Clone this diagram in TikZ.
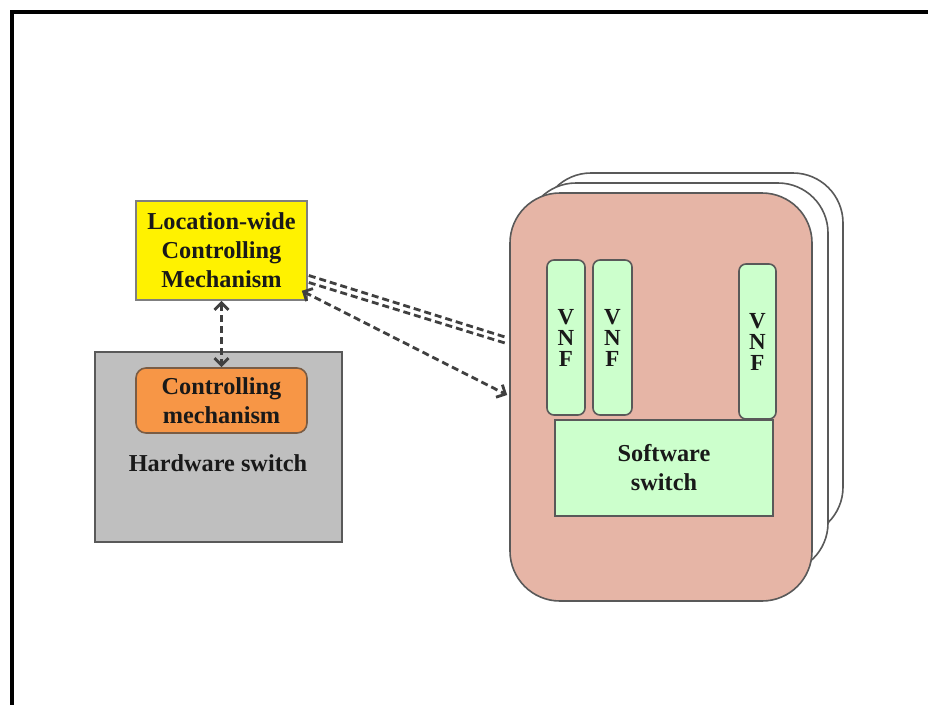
\documentclass[tikz,border=0pt]{standalone}
\usepackage{fontspec}
\setmainfont{Liberation Serif}
\usetikzlibrary{arrows.meta,calc}

\definecolor{framegray}{HTML}{7F7F7F}
\definecolor{darkedge}{HTML}{595959}
\definecolor{hwfill}{HTML}{BFBFBF}
\definecolor{cmfill}{HTML}{F79646}
\definecolor{cmedge}{HTML}{7A5C44}
\definecolor{serverfill}{HTML}{E6B5A6}
\definecolor{vnffill}{HTML}{CCFFCC}
\definecolor{linkgray}{HTML}{404040}

\tikzset{
  basebox/.style={inner sep=0pt, align=center, text=black!90,
    font=\bfseries\fontsize{24.3}{29}\selectfont},
  lcmbox/.style={basebox, draw=framegray, line width=1.6pt, fill=yellow},
  hwbox/.style={basebox, draw=darkedge, line width=1.6pt, fill=hwfill},
  cmbox/.style={basebox, draw=cmedge, line width=1.6pt, fill=cmfill,
    rounded corners=10pt},
  serverbox/.style={draw=darkedge, line width=1.6pt, rounded corners=50pt,
    inner sep=0pt},
  vnfbox/.style={basebox, draw=darkedge, line width=1.6pt, fill=vnffill,
    rounded corners=7pt, font=\bfseries\fontsize{23}{21}\selectfont},
  swbox/.style={basebox, draw=darkedge, line width=1.6pt, fill=vnffill},
  link/.style={draw=linkgray, line width=2.8pt, dash pattern=on 7pt off 4pt},
  bothtips/.style={{Straight Barb[length=7pt,width=14pt]}-{Straight Barb[length=7pt,width=14pt]}}
}

\begin{document}
\begin{tikzpicture}[x=1pt,y=-1pt]
\useasboundingbox (0,0) rectangle (928,704);
\fill[white] (0,0) rectangle (928,704);

% outer frame (continues past the right and bottom edges)
\draw[black, line width=3.6pt] (12,720) -- (12,12) -- (940,12);

% stack of servers, back to front
\node[serverbox, fill=white, minimum width=302pt, minimum height=364pt]
  (srv3) at (692,355) {};
\node[serverbox, fill=white, minimum width=302pt, minimum height=390pt]
  (srv2) at (677,378) {};
\node[serverbox, fill=serverfill, minimum width=302pt, minimum height=408pt]
  (srv1) at (661,397) {};

% network functions and software switch
\node[vnfbox, minimum width=38pt, minimum height=155pt] (vnf1) at (566,337.5) {V\\N\\F};
\node[vnfbox, minimum width=39pt, minimum height=155pt] (vnf2) at (612.5,337.5) {V\\N\\F};
\node[vnfbox, minimum width=37pt, minimum height=155pt] (vnf3) at (757.5,341.5) {V\\N\\F};
\node[swbox, minimum width=218pt, minimum height=96pt] (sw) at (664,468) {Software\\switch};

% hardware switch with its local controller
\node[hwbox, minimum width=247pt, minimum height=190pt] (hw) at (218.5,447) {};
\node[cmbox, minimum width=171pt, minimum height=65pt] (cm) at (221.5,400.5) {Controlling\\mechanism};
\node[basebox] (hwlabel) at (218,463) {Hardware switch};

% location-wide controller
\node[lcmbox, minimum width=171pt, minimum height=99pt] (lcm) at (221.5,250.5)
  {Location-wide\\Controlling\\Mechanism};

% control links
\draw[link, bothtips] (lcm.south) -- (cm.north);
\draw[link] ($(lcm.east)+(1,25)$) -- ($(srv1.west)+(-1,-59)$);
\draw[link] ($(lcm.east)+(1,32)$) -- ($(srv1.west)+(-1,-53)$);
\draw[link, bothtips] ($(lcm.south east)+(-6,-10)$) -- ($(srv1.west)+(-2,-2)$);
\end{tikzpicture}
\end{document}
